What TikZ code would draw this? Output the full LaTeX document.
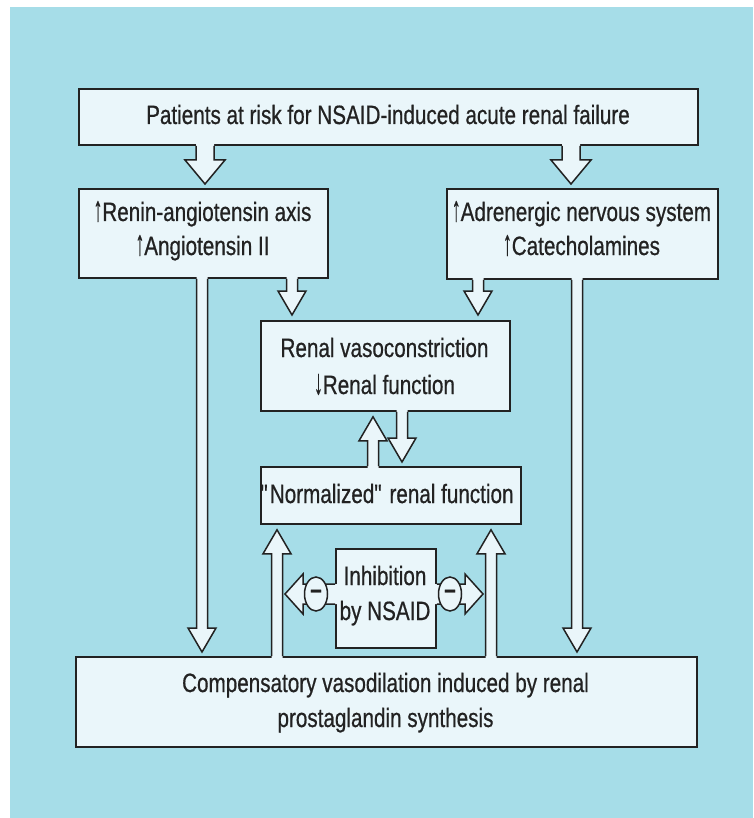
\documentclass[tikz,border=0pt]{standalone}
\usepackage{fontspec}
\usepackage{graphicx}
\setmainfont{Liberation Sans}[FakeStretch=0.78,FakeBold=0.6]
\usetikzlibrary{calc,shapes.geometric}
\definecolor{bg}{HTML}{A6DDE8}
\definecolor{boxfill}{HTML}{EAF6FA}
\definecolor{ink}{HTML}{222222}
\newcommand\uparr{\scalebox{0.85}[1.35]{↑}}
\newcommand\dnarr{\scalebox{0.85}[1.35]{↓}}
\tikzset{
  box/.style={draw=ink, fill=boxfill, line width=1.8pt, anchor=north west, inner sep=0pt},
  txt/.style={anchor=base, inner sep=0pt, text=ink, font=\fontsize{26.5}{30}\selectfont},
  arrline/.style={draw=ink, line width=1.5pt, line join=miter},
  minus/.style={ellipse, draw=ink, fill=boxfill, line width=1.5pt, minimum width=23pt,
    minimum height=34pt, inner sep=0pt, font=\fontsize{26.5}{30}\selectfont\bfseries, text=ink}
}
% vertical hollow arrow: start, tip, shaft half, head half, head length, dir (1 down, -1 up)
\newcommand\varrow[6]{%
  \fill[boxfill] let \p1=#1, \p2=#2, \n1={\y2+(#6)*(#5)}, \n2={\y1+(#6)*2} in
    (\x1-#3pt,\n2) -- (\x1-#3pt,\n1) -- (\x1-#4pt,\n1) -- (\x1,\y2)
    -- (\x1+#4pt,\n1) -- (\x1+#3pt,\n1) -- (\x1+#3pt,\n2) -- cycle;
  \draw[arrline] let \p1=#1, \p2=#2, \n1={\y2+(#6)*(#5)} in
    (\x1-#3pt,\y1) -- (\x1-#3pt,\n1) -- (\x1-#4pt,\n1) -- (\x1,\y2)
    -- (\x1+#4pt,\n1) -- (\x1+#3pt,\n1) -- (\x1+#3pt,\y1);
}
% horizontal hollow arrow: start, tip, shaft half, head half, head length, dir (1 left, -1 right)
\newcommand\harrow[6]{%
  \fill[boxfill] let \p1=#1, \p2=#2, \n1={\x2+(#6)*(#5)}, \n2={\x1+(#6)*2} in
    (\n2,\y1-#3pt) -- (\n1,\y1-#3pt) -- (\n1,\y1-#4pt) -- (\x2,\y1)
    -- (\n1,\y1+#4pt) -- (\n1,\y1+#3pt) -- (\n2,\y1+#3pt) -- cycle;
  \draw[arrline] let \p1=#1, \p2=#2, \n1={\x2+(#6)*(#5)} in
    (\x1,\y1-#3pt) -- (\n1,\y1-#3pt) -- (\n1,\y1-#4pt) -- (\x2,\y1)
    -- (\n1,\y1+#4pt) -- (\n1,\y1+#3pt) -- (\x1,\y1+#3pt);
}
\begin{document}
\begin{tikzpicture}[x=1pt,y=-1pt]
\useasboundingbox (0,0) rectangle (753,818);
\fill[white] (0,0) rectangle (753,818);
\fill[bg] (10,7) rectangle (753,818);

% boxes
\node[box, minimum width=619pt, minimum height=56pt] (top) at (78,88) {};
\node[box, minimum width=249pt, minimum height=89pt] (renin) at (78,188) {};
\node[box, minimum width=271pt, minimum height=90pt] (adr) at (446,188) {};
\node[box, minimum width=249pt, minimum height=90pt] (vaso) at (260,320) {};
\node[box, minimum width=260pt, minimum height=57pt] (norm) at (260,466) {};
\node[box, minimum width=100pt, minimum height=99pt] (inh) at (335,548) {};
\node[box, minimum width=621pt, minimum height=90pt] (bot) at (75,656) {};

% guide coordinates for arrow positions
\coordinate (gA) at (205,0);
\coordinate (gB) at (571,0);
\coordinate (gC) at (292,0);
\coordinate (gD) at (478,0);
\coordinate (gE) at (402,0);
\coordinate (gF) at (373,0);
\coordinate (gG) at (202,0);
\coordinate (gH) at (577,0);
\coordinate (gI) at (277,0);
\coordinate (gJ) at (491,0);
\coordinate (tipL) at (285,594);
\coordinate (tipR) at (483,594);

% arrows
\varrow{(top.south -| gA)}{($(renin.north -| gA)+(0,-4)$)}{9}{20}{24}{1}
\varrow{(top.south -| gB)}{($(adr.north -| gB)+(0,-4)$)}{9}{20}{24}{1}
\varrow{(renin.south -| gC)}{($(vaso.north -| gC)+(0,-5)$)}{5.5}{14}{24}{1}
\varrow{(adr.south -| gD)}{($(vaso.north -| gD)+(0,-5)$)}{5.5}{14}{24}{1}
\varrow{(vaso.south -| gE)}{($(norm.north -| gE)+(0,-4)$)}{5.5}{14}{24}{1}
\varrow{(norm.north -| gF)}{($(vaso.south -| gF)+(0,5)$)}{5.5}{14}{24}{-1}
\varrow{(renin.south -| gG)}{($(bot.north -| gG)+(0,-4)$)}{5.5}{14}{24}{1}
\varrow{(adr.south -| gH)}{($(bot.north -| gH)+(0,-4)$)}{5.5}{14}{24}{1}
\varrow{(bot.north -| gI)}{($(norm.south -| gI)+(0,5)$)}{5.5}{14}{24}{-1}
\varrow{(bot.north -| gJ)}{($(norm.south -| gJ)+(0,5)$)}{5.5}{14}{24}{-1}
\harrow{(inh.west |- tipL)}{(tipL)}{10}{20}{18}{1}
\harrow{(inh.east |- tipR)}{(tipR)}{10}{20}{18}{-1}
\node[minus] (m1) at (316,594) {–};
\node[minus] (m2) at (450,594) {–};

% texts
\node[txt] (t1) at (388,124) {Patients at risk for NSAID-induced acute renal failure};
\node[txt] (r1) at (202.5,221) {\uparr Renin-angiotensin axis};
\node[txt] (r2) at (202.5,255) {\uparr Angiotensin II};
\node[txt] (a1) at (581.5,221) {\uparr Adrenergic nervous system};
\node[txt] (a2) at (581.5,255) {\uparr Catecholamines};
\node[txt] (v1) at (384.5,357) {Renal vasoconstriction};
\node[txt] (v2) at (384.5,394) {\dnarr Renal function};
\node[txt] (n1) at (387,503) {\textquotedbl Normalized\textquotedbl\ renal function};
\node[txt] (i1) at (385,585) {Inhibition};
\node[txt] (i2) at (385,620) {by NSAID};
\node[txt] (b1) at (385.5,692) {Compensatory vasodilation induced by renal};
\node[txt] (b2) at (385.5,727) {prostaglandin synthesis};
\end{tikzpicture}
\end{document}
